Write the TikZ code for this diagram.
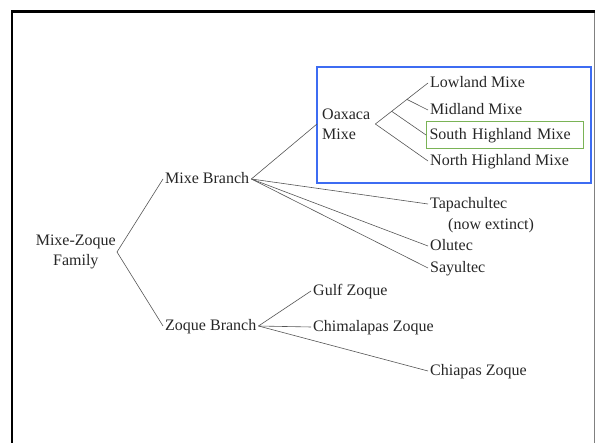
\documentclass[tikz,border=0pt]{standalone}
\usepackage{fontspec}
\setmainfont{Liberation Serif}
\usetikzlibrary{calc}

\definecolor{boxblue}{HTML}{3D6CF2}
\definecolor{boxgreen}{HTML}{7AB356}
\definecolor{linkgray}{HTML}{555555}

\begin{document}
\begin{tikzpicture}[x=1pt, y=-1pt,
    every node/.style={font=\fontsize{16}{20}\selectfont, text=black!85, inner sep=2pt},
    leaf/.style={anchor=west, text height=12pt, text depth=2pt},
    link/.style={linkgray, line width=0.6pt}]
			\useasboundingbox (0,0) rectangle (595,443);
			% frame
			\draw[line width=2.7pt] (12,443) -- (12,11.5) -- (595,11.5);
			\draw[gray, line width=1pt] (594,13) -- (594,443);
			% family and branches
			\node[anchor=east, align=center, inner xsep=1pt] (root) at (117,252) {Mixe-Zoque\\Family};
			\node[leaf] (mixe) at (163,179) {Mixe Branch};
			\node[leaf] (zoque) at (163,326) {Zoque Branch};
			% Oaxaca Mixe group
			\draw[boxblue, line width=1.3pt] (317,67) rectangle (591,183);
			\node[anchor=west, align=left, inner xsep=5pt] (oaxaca) at (317,124) {Oaxaca\\Mixe};
			\node[leaf] (low) at (428,83) {Lowland Mixe};
			\node[leaf] (mid) at (428,110) {Midland Mixe};
			\node[leaf, draw=boxgreen, line width=1pt, inner xsep=3pt, text width=151pt, align=left, minimum height=27pt] (south) at (426,135) {South Highland Mixe};
			\node[leaf] (north) at (428,161) {North Highland Mixe};
			% other Mixe languages
			\node[leaf] (tapa) at (428,204) {Tapachultec};
			\node[leaf] (extinct) at (446,225) {(now extinct)};
			\node[leaf] (olu) at (428,246) {Olutec};
			\node[leaf] (sayu) at (428,268) {Sayultec};
			% Zoque languages
			\node[leaf] (gulf) at (311,291) {Gulf Zoque};
			\node[leaf] (chima) at (311,327) {Chimalapas Zoque};
			\node[leaf] (chia) at (428,371) {Chiapas Zoque};
			% junctions inside Oaxaca Mixe
			\coordinate (j1) at ($(oaxaca.east)!.31!(low.west)$);
			\coordinate (j2) at ($(oaxaca.east)!.6!(low.west)$);
			% links
			\draw[link] (root.east) -- (mixe.west);
			\draw[link] (root.east) -- (zoque.west);
			\draw[link] (mixe.east) -- (oaxaca.west);
			\draw[link] (mixe.east) -- (tapa.west);
			\draw[link] (mixe.east) -- (olu.west);
			\draw[link] (mixe.east) -- (sayu.west);
			\draw[link] (oaxaca.east) -- (low.west);
			\draw[link] (j2) -- (mid.west);
			\draw[link] (j1) -- (south.west);
			\draw[link] (oaxaca.east) -- (north.west);
			\draw[link] (zoque.east) -- (gulf.west);
			\draw[link] (zoque.east) -- (chima.west);
			\draw[link] (zoque.east) -- (chia.west);
		\end{tikzpicture}
\end{document}
